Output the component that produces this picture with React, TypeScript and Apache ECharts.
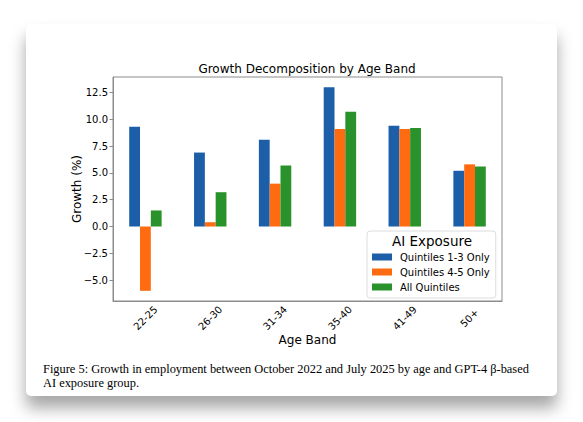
import React, { useEffect, useRef } from "react";
import * as echarts from "echarts";

// data
const ageBands = ["22-25", "26-30", "31-34", "35-40", "41-49", "50+"];
const quintiles13 = [9.3, 6.9, 8.1, 13.0, 9.4, 5.2];
const quintiles45 = [-6.0, 0.4, 4.0, 9.1, 9.1, 5.8];
const allQuintiles = [1.5, 3.2, 5.7, 10.7, 9.2, 5.6];
const seriesNames = ["Quintiles 1-3 Only", "Quintiles 4-5 Only", "All Quintiles"];
const yTicks = [-5, -2.5, 0, 2.5, 5, 7.5, 10, 12.5];

const colors = ["#1c5ea8", "#ff6b10", "#2a922a"];
const sans = "DejaVu Sans";
const spine = "#8c8c8c";

const fmtTick = (v: number) => (v < 0 ? "\u2212" : "") + Math.abs(v).toFixed(1);

const App: React.FC = () => {
  const chartRef = useRef<HTMLDivElement>(null);

  useEffect(() => {
    if (!chartRef.current) return;
    const chart = echarts.init(chartRef.current, null, { renderer: "svg" });

    const values = [quintiles13, quintiles45, allQuintiles];

    chart.setOption({
      animation: false,
      textStyle: { fontFamily: sans },
      grid: {
        left: 87,
        top: 53,
        right: 55,
        bottom: 95,
        show: true,
        borderColor: spine,
        borderWidth: 1,
      },
      legend: {
        left: 341,
        top: 207,
        orient: "vertical",
        padding: [19, 6, 4, 5],
        itemWidth: 20,
        itemHeight: 7,
        itemGap: 1,
        icon: "rect",
        selectedMode: false,
        backgroundColor: "rgba(255,255,255,0.85)",
        borderColor: "#dcdcdc",
        borderWidth: 1,
        borderRadius: 3,
        textStyle: {
          fontFamily: sans,
          fontSize: 10,
          color: "#000",
          lineHeight: 14,
          padding: [0, 0, 0, 3],
        },
        data: seriesNames,
      },
      xAxis: {
        type: "category",
        data: ageBands,
        name: "Age Band",
        nameLocation: "middle",
        nameGap: 33,
        nameMoveOverlap: false,
        nameTextStyle: { fontFamily: sans, fontSize: 12, color: "#000" },
        axisLine: { onZero: false, lineStyle: { color: spine } },
        axisTick: { alignWithLabel: true, length: 3.5, lineStyle: { color: spine } },
        axisLabel: {
          rotate: 45,
          align: "center",
          verticalAlign: "middle",
          margin: 17,
          fontSize: 10,
          color: "#000",
          fontFamily: sans,
        },
      },
      yAxis: {
        type: "value",
        min: -6.95,
        max: 13.95,
        name: "Growth (%)",
        nameLocation: "middle",
        nameGap: 30,
        nameMoveOverlap: false,
        nameTextStyle: { fontFamily: sans, fontSize: 12, color: "#000" },
        splitLine: { show: false },
        axisLine: { show: true, lineStyle: { color: spine } },
        axisTick: { show: true, length: 3.5, customValues: yTicks, lineStyle: { color: spine } },
        axisLabel: {
          customValues: yTicks,
          formatter: fmtTick,
          margin: 5,
          fontSize: 10,
          color: "#000",
          fontFamily: sans,
        },
      },
      graphic: [
        {
          type: "text",
          x: 281,
          y: 45,
          z: 100,
          style: {
            text: "Growth Decomposition by Age Band",
            font: `12px ${sans}`,
            fill: "#000",
            textAlign: "center",
            textVerticalAlign: "middle",
          },
        },
        {
          type: "text",
          x: 406,
          y: 217,
          z: 100,
          style: {
            text: "AI Exposure",
            font: `13.5px ${sans}`,
            fill: "#000",
            textAlign: "center",
            textVerticalAlign: "middle",
          },
        },
        {
          type: "text",
          x: 17,
          y: 345,
          style: {
            text: "Figure 5: Growth in employment between October 2022 and July 2025 by age and GPT-4 \u03b2-based",
            font: "12.4px 'Liberation Serif'",
            fill: "#000",
            textVerticalAlign: "middle",
          },
        },
        {
          type: "text",
          x: 17,
          y: 359,
          style: {
            text: "AI exposure group.",
            font: "12.4px 'Liberation Serif'",
            fill: "#000",
            textVerticalAlign: "middle",
          },
        },
      ],
      series: seriesNames.map((name, i) => ({
        name,
        type: "bar",
        data: values[i],
        barGap: "0%",
        barCategoryGap: "50%",
        itemStyle: { color: colors[i] },
      })),
    });

    return () => {
      chart.dispose();
    };
  }, []);

  return (
    <div style={{ position: "absolute", left: 0, top: 0, width: 583, height: 422, background: "#fff" }}>
      <div
        style={{
          position: "absolute",
          left: 26,
          top: 24,
          width: 531,
          height: 372,
          background: "#fff",
          borderRadius: 5,
          boxShadow: "0 12px 16px rgba(0,0,0,0.35)",
        }}
      >
        <div ref={chartRef} style={{ width: 531, height: 372 }} />
      </div>
    </div>
  );
};

export default App;
